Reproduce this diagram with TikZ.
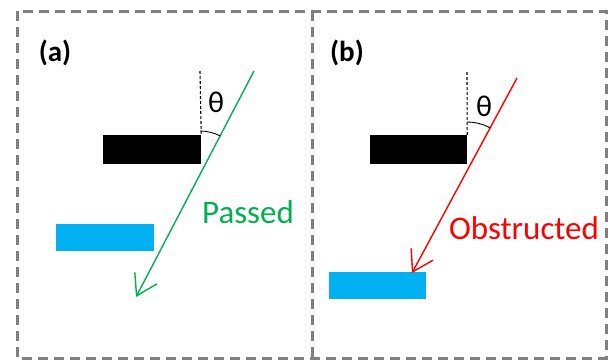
\documentclass[tikz,border=0pt]{standalone}
\usepackage{fontspec}
\setmainfont{Carlito}
\usetikzlibrary{arrows.meta}
\definecolor{pgreen}{RGB}{0,176,80}
\definecolor{pblue}{RGB}{0,176,240}
\definecolor{pgray}{RGB}{128,128,128}
\begin{document}
\begin{tikzpicture}[x=1pt,y=-1pt,
  panel/.style={draw=pgray, line width=3pt, dash pattern=on 10pt off 6pt},
  blackbar/.style={fill=black, inner sep=0pt, minimum width=98pt, minimum height=29pt},
  bluebar/.style={fill=pblue, inner sep=0pt, minimum width=98pt, minimum height=27pt},
  normalline/.style={black, line width=1.1pt, dash pattern=on 3pt off 2pt},
  ray/.style={line width=1.4pt, -{Straight Barb[length=20pt,width=25pt,line width=1.4pt]}},
  lbl/.style={inner sep=0pt, font=\fontsize{29}{32}\selectfont\bfseries},
  thetalbl/.style={inner sep=0pt, font=\fontsize{30}{34}\selectfont},
  raylbl/.style={inner sep=0pt, font=\fontsize{33}{37}\selectfont}]
\useasboundingbox (0,0) rectangle (612,360);
% panels
\draw[panel] (17,11) rectangle (606,358);
\draw[panel] (312,11) -- (312,358);
% panel (a)
\node[lbl] (la) at (55,53) {(a)};
\node[blackbar] (ka) at (152,149.5) {};
\node[bluebar] (ba) at (105,237) {};
\coordinate (na) at (200,71);
\draw[normalline] (na) -- (ka.north east);
\coordinate (sa) at (254,71);
\coordinate (ea) at (136,297);
\draw[ray, pgreen] (sa) -- (ea);
\draw[black, line width=0.9pt] (200,131) arc[start angle=-90, end angle=-62.4, radius=44];
\node[thetalbl] (ta) at (216,102) {θ};
\node[raylbl, text=pgreen] (pa) at (248,212) {Passed};
% panel (b)
\node[lbl] (lb) at (347,53) {(b)};
\node[blackbar, minimum width=97pt] (kb) at (418.5,149.5) {};
\node[bluebar, minimum width=97pt] (bb) at (377.5,285.5) {};
\coordinate (nb) at (467,72);
\draw[normalline] (nb) -- (kb.north east);
\coordinate (sb) at (517,78);
\coordinate (eb) at (412,273);
\draw[ray, red] (sb) -- (eb);
\draw[black, line width=0.9pt] (467,122) arc[start angle=-90, end angle=-61.7, radius=49];
\node[thetalbl] (tb) at (484,106) {θ};
\node[raylbl, text=red] (pb) at (524,228) {Obstructed};
\end{tikzpicture}
\end{document}
